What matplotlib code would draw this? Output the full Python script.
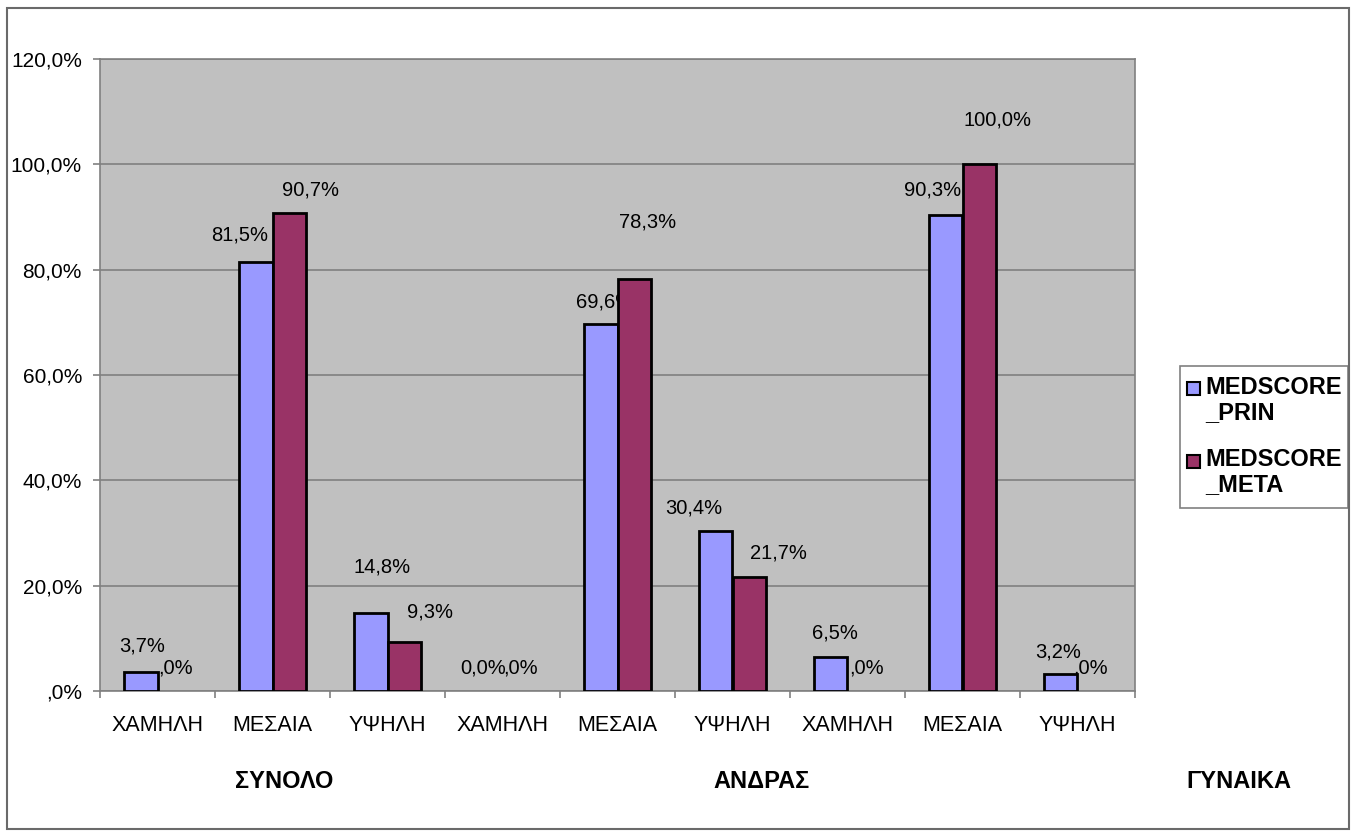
import matplotlib
matplotlib.use("Agg")
import matplotlib.pyplot as plt
from matplotlib.patches import Rectangle

plt.rcParams["font.family"] = ["Liberation Sans", "DejaVu Sans"]

# data
categories = ["ΧΑΜΗΛΗ", "ΜΕΣΑΙΑ", "ΥΨΗΛΗ"] * 3
groups = ["ΣΥΝΟΛΟ", "ΑΝΔΡΑΣ", "ΓΥΝΑΙΚΑ"]
series_names = ["MEDSCORE\n_PRIN", "MEDSCORE\n_META"]
prin = [3.7, 81.5, 14.8, 0.0, 69.6, 30.4, 6.5, 90.3, 3.2]
meta = [0.0, 90.7, 9.3, 0.0, 78.3, 21.7, 0.0, 100.0, 0.0]
prin_labels = ["3,7%", "81,5%", "14,8%", "0,0%", "69,6%", "30,4%", "6,5%", "90,3%", "3,2%"]
meta_labels = [",0%", "90,7%", "9,3%", ",0%", "78,3%", "21,7%", ",0%", "100,0%", ",0%"]
y_ticks = [0, 20, 40, 60, 80, 100, 120]
y_tick_labels = [",0%", "20,0%", "40,0%", "60,0%", "80,0%", "100,0%", "120,0%"]

# label nudges in pixels (dx, dy above bar top)
prin_off = [(1, 26), (-16, 27), (11, 46), (-3, 23), (4, 22), (-22, 23), (4, 24), (-13, 25), (-3, 22)]
meta_off = [(1, 23), (21, 23), (26, 30), (1, 23), (14, 57), (29, 24), (2, 23), (18, 44), (-4, 23)]

c_prin = "#9999FF"
c_meta = "#993366"
W, H = 1351, 832

fig = plt.figure(figsize=(W / 100, H / 100), dpi=100)
ax = fig.add_axes([100 / W, 141 / H, 1035 / W, 632 / H])
ax.set_facecolor("#C0C0C0")

bw = 0.287
x = list(range(len(categories)))
xp = [i - bw / 2 for i in x]
xm = [i + bw / 2 for i in x]
# empty bars get no outline
ax.bar(xp, prin, width=bw, color=c_prin, edgecolor="black",
       linewidth=[2 if v > 0 else 0 for v in prin], zorder=3)
ax.bar(xm, meta, width=bw, color=c_meta, edgecolor="black",
       linewidth=[2 if v > 0 else 0 for v in meta], zorder=3)

for xs, vals, labs, offs in [(xp, prin, prin_labels, prin_off), (xm, meta, meta_labels, meta_off)]:
    for xi, v, lab, (dx, dy) in zip(xs, vals, labs, offs):
        ax.annotate(lab, (xi, v), xytext=(dx, dy), textcoords="offset pixels",
                    ha="center", va="center", fontsize=14.5, zorder=2)

ax.set_xlim(-0.5, len(categories) - 0.5)
ax.set_ylim(0, 120)
ax.set_yticks(y_ticks)
ax.set_yticklabels(y_tick_labels, fontsize=15)
ax.yaxis.grid(True, color="#808080", linewidth=1.2)
ax.set_axisbelow(True)

ax.set_xticks(x)
ax.set_xticklabels(categories, fontsize=15.5)
ax.set_xticks([i - 0.5 for i in range(len(categories) + 1)], minor=True)
ax.tick_params(axis="x", which="major", length=0, pad=17)
ax.tick_params(axis="x", which="minor", length=5, width=1.2, color="#808080")
ax.tick_params(axis="y", length=5, width=1.2, color="#808080", pad=8)
for s in ax.spines.values():
    s.set_color("#808080")
    s.set_linewidth(1.2)

# group names under the categories
for gx, name in zip([284, 762, 1239], groups):
    fig.text(gx / W, 1 - 782 / H, name, ha="center", va="center",
             fontsize=17, fontweight="bold")

# legend
fig.add_artist(Rectangle((1180 / W, 1 - 508 / H), 168 / W, 142 / H, transform=fig.transFigure,
                         facecolor="white", edgecolor="#808080", linewidth=1.2))
for (yc, col, name) in [(389, c_prin, series_names[0]), (461, c_meta, series_names[1])]:
    fig.add_artist(Rectangle((1187 / W, 1 - (yc + 6.5) / H), 13 / W, 13 / H,
                             transform=fig.transFigure, facecolor=col,
                             edgecolor="black", linewidth=1.5))
    fig.text(1205 / W, 1 - (yc - 13) / H, name, ha="left", va="top",
             fontsize=17, fontweight="bold", linespacing=1.1)

# outer frame
fig.add_artist(Rectangle((7 / W, 3 / H), 1342 / W, 821 / H, transform=fig.transFigure,
                         facecolor="none", edgecolor="#6a6a6a", linewidth=1.5))

fig.savefig("out.png", dpi=100)
